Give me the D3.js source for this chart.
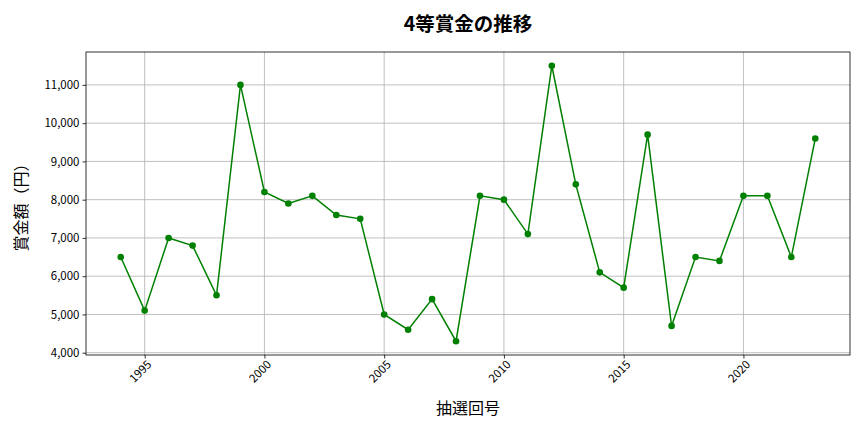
<!DOCTYPE html>
<html>
<head>
<meta charset="utf-8">
<script src="https://cdn.jsdelivr.net/npm/d3@7"></script>
<style>
  body { margin: 0; background: #fff; }
  text { font-family: "Noto Sans CJK JP", "Noto Sans", sans-serif; }
</style>
</head>
<body>
<div id="chart"></div>
<script>
// draw years and the 4th prize amount (yen)
var years = [1994, 1995, 1996, 1997, 1998, 1999, 2000, 2001, 2002, 2003,
             2004, 2005, 2006, 2007, 2008, 2009, 2010, 2011, 2012, 2013,
             2014, 2015, 2016, 2017, 2018, 2019, 2020, 2021, 2022, 2023];
var prizes = [6500, 5100, 7000, 6800, 5500, 11000, 8200, 7900, 8100, 7600,
              7500, 5000, 4600, 5400, 4300, 8100, 8000, 7100, 11500, 8400,
              6100, 5700, 9700, 4700, 6500, 6400, 8100, 8100, 6500, 9600];
var xTicks = [1995, 2000, 2005, 2010, 2015, 2020];
var yTicks = [4000, 5000, 6000, 7000, 8000, 9000, 10000, 11000];

var width = 864, height = 432;
var margin = {top: 52, right: 14, bottom: 77, left: 86};
var innerW = width - margin.left - margin.right,
    innerH = height - margin.top - margin.bottom;

var svg = d3.select("#chart").append("svg")
    .attr("width", width)
    .attr("height", height);

var g = svg.append("g")
    .attr("transform", "translate(" + margin.left + "," + margin.top + ")");

// matplotlib style 5% padding on both axes
var xPad = (d3.max(years) - d3.min(years)) * 0.05;
var yPad = (d3.max(prizes) - d3.min(prizes)) * 0.05;
var x = d3.scaleLinear()
    .domain([d3.min(years) - xPad, d3.max(years) + xPad])
    .range([0, innerW]);
var y = d3.scaleLinear()
    .domain([d3.min(prizes) - yPad, d3.max(prizes) + yPad])
    .range([innerH, 0]);

// grid
g.append("g").selectAll("line").data(xTicks).enter().append("line")
    .attr("x1", d => x(d)).attr("x2", d => x(d))
    .attr("y1", 0).attr("y2", innerH)
    .attr("stroke", "#b0b0b0").attr("stroke-width", 0.8);
g.append("g").selectAll("line").data(yTicks).enter().append("line")
    .attr("x1", 0).attr("x2", innerW)
    .attr("y1", d => y(d)).attr("y2", d => y(d))
    .attr("stroke", "#b0b0b0").attr("stroke-width", 0.8);

// axes
var xAxis = g.append("g")
    .attr("transform", "translate(0," + innerH + ")")
    .call(d3.axisBottom(x).tickValues(xTicks).tickFormat(d3.format("d")).tickSize(3.5).tickPadding(3));
xAxis.selectAll("text")
    .attr("font-size", 11.5)
    .attr("fill", "#000")
    .style("text-anchor", "end")
    .attr("dx", "-0.2em")
    .attr("dy", "0.5em")
    .attr("transform", "rotate(-45)");

var yAxis = g.append("g")
    .call(d3.axisLeft(y).tickValues(yTicks).tickFormat(d3.format(",")).tickSize(3.5).tickPadding(3));
yAxis.selectAll("text").attr("font-size", 11.5).attr("fill", "#000");

[xAxis, yAxis].forEach(function(a) {
    a.select(".domain").remove();
    a.selectAll(".tick line").attr("stroke", "#000").attr("stroke-width", 0.8);
});

// frame
g.append("rect")
    .attr("width", innerW).attr("height", innerH)
    .attr("fill", "none").attr("stroke", "#000").attr("stroke-width", 0.8);

// line and markers
var line = d3.line()
    .x((d, i) => x(years[i]))
    .y(d => y(d));
g.append("path")
    .datum(prizes)
    .attr("d", line)
    .attr("fill", "none")
    .attr("stroke", "green")
    .attr("stroke-width", 1.5);
g.selectAll(".dot").data(prizes).enter().append("circle")
    .attr("class", "dot")
    .attr("cx", (d, i) => x(years[i]))
    .attr("cy", d => y(d))
    .attr("r", 3.3)
    .attr("fill", "green");

// labels
svg.append("text")
    .attr("x", margin.left + innerW / 2).attr("y", 31)
    .attr("text-anchor", "middle")
    .attr("font-size", 19.5).attr("font-weight", "bold")
    .text("4等賞金の推移");
svg.append("text")
    .attr("x", margin.left + innerW / 2).attr("y", 414)
    .attr("text-anchor", "middle")
    .attr("font-size", 16)
    .text("抽選回号");
svg.append("text")
    .attr("transform", "translate(27," + (margin.top + innerH / 2) + ") rotate(-90)")
    .attr("text-anchor", "middle")
    .attr("font-size", 16)
    .text("賞金額（円）");
</script>
</body>
</html>
